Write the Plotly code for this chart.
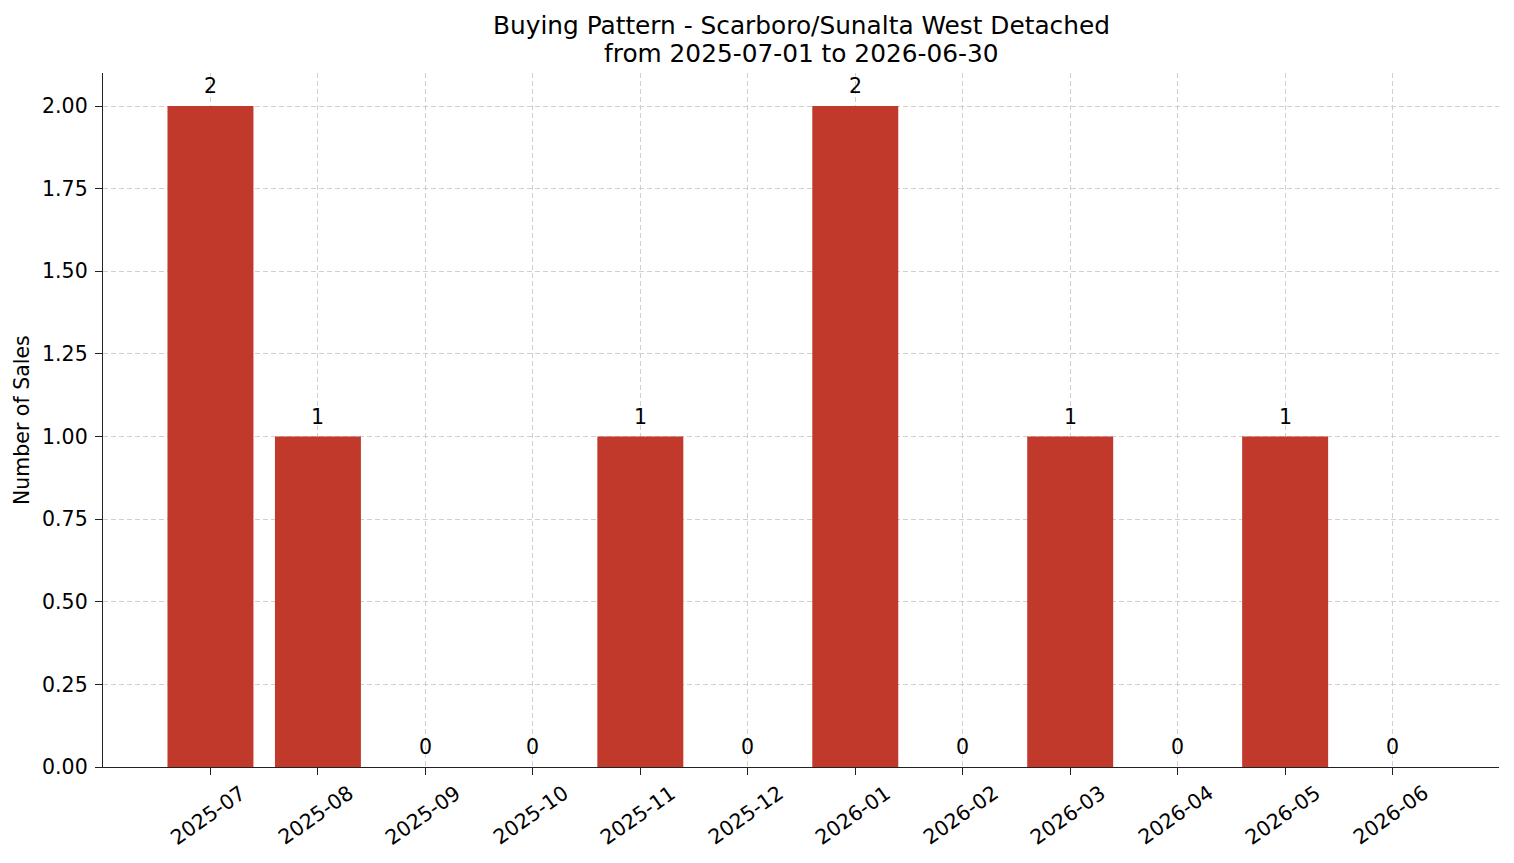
import plotly.graph_objects as go

months = ["2025-07", "2025-08", "2025-09", "2025-10", "2025-11", "2025-12",
          "2026-01", "2026-02", "2026-03", "2026-04", "2026-05", "2026-06"]
sales = [2, 1, 0, 0, 1, 0, 2, 0, 1, 0, 1, 0]
title_lines = ["Buying Pattern - Scarboro/Sunalta West Detached", "from 2025-07-01 to 2026-06-30"]
y_title = "Number of Sales"

idx = list(range(len(months)))
font = "DejaVu Sans"
fs = 20.5
grid = "rgba(200,200,200,0.85)"

fig = go.Figure()
fig.add_trace(go.Bar(x=idx, y=sales, width=0.8, marker=dict(color="#c0392b", line=dict(width=0)),
                     hoverinfo="skip"))

ann = []
# bar value labels
for i, v in zip(idx, sales):
    ann.append(dict(x=i, y=v, xref="x", yref="y", text=str(v), showarrow=False,
                    xanchor="center", yanchor="bottom", yshift=6,
                    font=dict(family=font, size=fs, color="black")))
# rotated x tick labels centred under ticks
for i, m in zip(idx, months):
    ann.append(dict(x=i, y=0, xref="x", yref="paper", text=m, showarrow=False,
                    xanchor="center", yanchor="middle", textangle=-35, yshift=-48, xshift=-2,
                    font=dict(family=font, size=fs, color="black")))
# title lines
ann.append(dict(x=0.5, y=1, xref="paper", yref="paper", text=title_lines[0], showarrow=False,
                xanchor="center", yanchor="middle", yshift=48,
                font=dict(family=font, size=24.8, color="black")))
ann.append(dict(x=0.5, y=1, xref="paper", yref="paper", text=title_lines[1], showarrow=False,
                xanchor="center", yanchor="middle", yshift=20,
                font=dict(family=font, size=24.8, color="black")))
# y axis title
ann.append(dict(x=0, y=0.5, xref="paper", yref="paper", text=y_title, showarrow=False,
                xanchor="center", yanchor="middle", textangle=-90, xshift=-81,
                font=dict(family=font, size=fs, color="black")))

fig.update_layout(
    width=1514, height=863,
    margin=dict(l=103, r=15, t=73, b=96),
    paper_bgcolor="white", plot_bgcolor="white",
    showlegend=False,
    annotations=ann,
    font=dict(family=font, size=fs, color="black"),
)
fig.update_xaxes(range=[-1.0, 11.99], tickmode="array", tickvals=idx, ticktext=months,
                 showticklabels=False,
                 ticks="outside", ticklen=7, tickwidth=1.4, tickcolor="#222",
                 showline=True, linecolor="#222", linewidth=1.4, mirror=False,
                 showgrid=True, gridcolor=grid, griddash="5px,3px", gridwidth=0.8,
                 zeroline=False, layer="above traces")
fig.update_yaxes(range=[0, 2.1], tickmode="linear", tick0=0, dtick=0.25, tickformat=".2f",
                 ticks="outside", ticklen=7, tickwidth=1.4, tickcolor="#222",
                 showline=True, linecolor="#222", linewidth=1.4,
                 showgrid=True, gridcolor=grid, griddash="5px,3px", gridwidth=0.8,
                 zeroline=False, tickfont=dict(family=font, size=fs, color="black"),
                 ticklabelstandoff=3, layer="above traces")

fig.write_html("out.html")
